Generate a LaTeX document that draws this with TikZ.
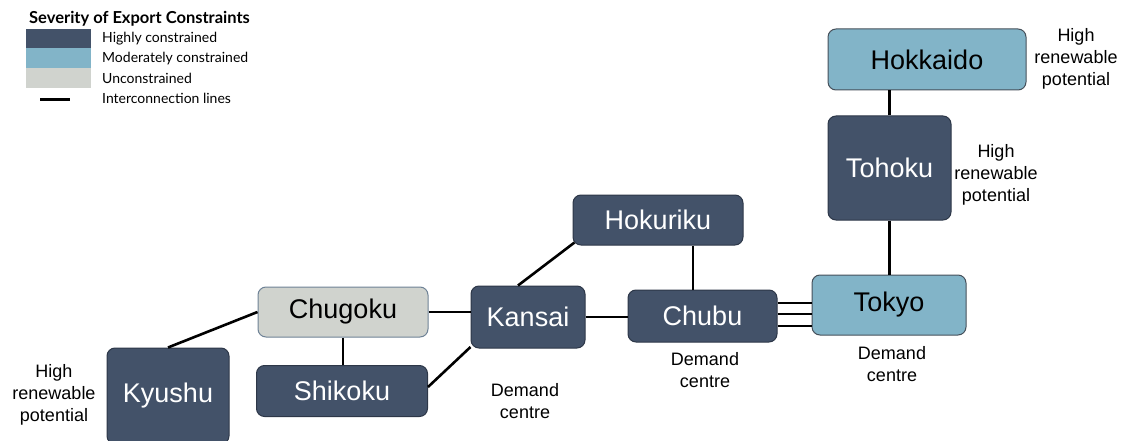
\documentclass[tikz,border=0pt]{standalone}
\usepackage{fontspec}
\setmainfont{Liberation Sans}
\newfontfamily\legendfont{Lato}
\definecolor{highfill}{RGB}{67,82,105}
\definecolor{highline}{RGB}{45,55,72}
\definecolor{modfill}{RGB}{130,180,200}
\definecolor{modline}{RGB}{70,80,90}
\definecolor{unfill}{RGB}{208,211,206}
\definecolor{unline}{RGB}{110,130,150}
\begin{document}
\begin{tikzpicture}[x=1pt, y=-1pt,
		region/.style={draw, line width=1pt, rounded corners=8pt, inner sep=0pt, font=\fontsize{27}{32}\selectfont},
		high/.style={region, fill=highfill, draw=highline, text=white},
		moderate/.style={region, fill=modfill, draw=modline},
		uncon/.style={region, fill=unfill, draw=unline},
		link/.style={line width=2.6pt},
		note/.style={align=center, font=\fontsize{18}{22}\selectfont},
		legtext/.style={anchor=west, inner sep=0pt, font=\legendfont\fontsize{14}{16}\selectfont}]
	\useasboundingbox (0,0) rectangle (1122,441);
	
	% Legend
	\node[legtext, font=\legendfont\bfseries\fontsize{16.5}{19}\selectfont] (legtitle) at (29,19) {Severity of Export Constraints};
	\fill[highfill] (26,29) rectangle (91,48);
	\fill[modfill] (26,48) rectangle (91,68);
	\fill[unfill] (26,68) rectangle (91,88);
	\draw[line width=3pt] (40,100) -- (70,100);
	\node[legtext] (leghigh) at (102,39) {Highly constrained};
	\node[legtext] (legmod) at (102,59) {Moderately constrained};
	\node[legtext] (legun) at (102,78) {Unconstrained};
	\node[legtext] (legline) at (102,98) {Interconnection lines};
	
	% Regions
	\node[moderate, minimum width=198, minimum height=61] (hokkaido) at (927,59.5) {Hokkaido};
	\node[high, minimum width=123, minimum height=104] (tohoku) at (889.5,168) {Tohoku};
	\node[moderate, minimum width=154, minimum height=60] (tokyo) at (889,305) {Tokyo};
	\node[high, minimum width=149, minimum height=52] (chubu) at (702.5,316) {Chubu};
	\node[high, minimum width=170, minimum height=50] (hokuriku) at (658,220) {Hokuriku};
	\node[high, minimum width=114, minimum height=62] (kansai) at (528,317) {Kansai};
	\node[uncon, minimum width=170, minimum height=50] (chugoku) at (343,312) {Chugoku};
	\node[high, minimum width=171, minimum height=51] (shikoku) at (342,391) {Shikoku};
	\node[high, minimum width=122, minimum height=96] (kyushu) at (168,396) {Kyushu};
	
	% Interconnection lines
	\draw[link] (tohoku.north) -- (tohoku.north |- hokkaido.south);
	\draw[link] (tohoku.south) -- (tohoku.south |- tokyo.north);
	\foreach \dy in {13,2,-10}
		\draw[link] ([yshift=\dy pt]chubu.east) -- ([yshift=\dy pt]chubu.east -| tokyo.west);
	\draw[link] ([xshift=35pt]hokuriku.south) -- ([xshift=35pt]hokuriku.south |- chubu.north);
	\draw[link] (kansai.east) -- (kansai.east -| chubu.west);
	\draw[link] ([xshift=-10pt]kansai.north) -- ([shift={(2pt,3pt)}]hokuriku.south west);
	\draw[link] (chugoku.east) -- (chugoku.east -| kansai.west);
	\draw[link] ([yshift=4pt]shikoku.east) -- ([yshift=-30pt]kansai.west);
	\draw[link] (chugoku.south) -- (chugoku.south |- shikoku.north);
	\draw[link] (kyushu.north) -- (chugoku.west);
	
	% Notes
	\node[note] (hokkaidonote) at (1076,59) {High\\renewable\\potential};
	\node[note] (tohokunote) at (996,175) {High\\renewable\\potential};
	\node[note] (tokyonote) at (892,364) {Demand\\centre};
	\node[note] (chubunote) at (705,370) {Demand\\centre};
	\node[note] (kansainote) at (525,401) {Demand\\centre};
	\node[note] (kyushunote) at (54,395) {High\\renewable\\potential};
\end{tikzpicture}
\end{document}
